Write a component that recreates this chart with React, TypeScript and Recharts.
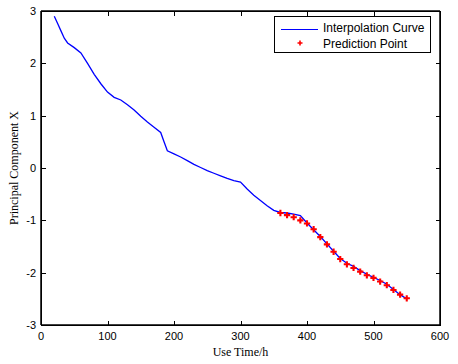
import { ComposedChart, Line, Scatter, XAxis, YAxis, ZAxis, ReferenceArea } from 'recharts';

// use time (h) and principal component X along the interpolation curve
const curveHours = [
  20, 25, 30, 35, 40, 50, 60, 70, 80, 90, 100, 110, 120, 130, 140, 150, 160, 170, 180, 185, 190, 200,
  210, 220, 230, 240, 250, 260, 270, 280, 290, 300, 310, 320, 330, 340, 350, 360, 370, 380, 390, 400,
  410, 420, 430, 440, 450, 460, 470, 480, 490, 500, 510, 520, 530, 540, 550,
];
const curveValues = [
  2.9, 2.76, 2.62, 2.48, 2.39, 2.3, 2.2, 2.0, 1.79, 1.61, 1.45, 1.35, 1.3, 1.21, 1.11, 0.99, 0.88, 0.78, 0.68, 0.5, 0.33, 0.27,
  0.21, 0.14, 0.07, 0.01, -0.05, -0.1, -0.15, -0.2, -0.24, -0.27, -0.4, -0.52, -0.62, -0.72, -0.81, -0.85, -0.86, -0.88, -0.91, -1.05,
  -1.18, -1.31, -1.45, -1.59, -1.73, -1.82, -1.88, -1.96, -2.03, -2.09, -2.15, -2.22, -2.32, -2.42, -2.5,
];

const predHours = [360, 370, 380, 390, 400, 410, 420, 430, 440, 450, 460, 470, 480, 490, 500, 510, 520, 530, 540, 550];
const predValues = [
  -0.86, -0.9, -0.94, -1.0, -1.06, -1.17, -1.32, -1.46, -1.6, -1.74, -1.84, -1.91, -1.98, -2.05, -2.1, -2.17, -2.24, -2.33, -2.42, -2.49,
];

const xTicks = [0, 100, 200, 300, 400, 500, 600];
const yTicks = [-3, -2, -1, 0, 1, 2, 3];
const xDomain = [0, 600];
const yDomain = [-3, 3];

const curveData = curveHours.map((h, i) => ({ h, v: curveValues[i] }));
const predData = predHours.map((h, i) => ({ h, v: predValues[i] }));

// plot box (matches the chart margins + axis sizes below)
const PL = 41;
const PT = 11;
const PW = 400;
const PH = 315;

const tickFont = { fontFamily: 'Liberation Sans, Arial, sans-serif', fontSize: 11, fill: '#000' };
const serif = 'Liberation Serif, Times New Roman, serif';
const GAP = 8;

const BottomTick = (props: any) => {
  const { x, y, payload } = props;
  const ay = y - GAP;
  return <text x={x} y={ay + 15} textAnchor="middle" {...tickFont}>{payload.value}</text>;
};

const LeftTick = (props: any) => {
  const { x, y, payload } = props;
  const ax = x + GAP;
  return <text x={ax - 5} y={y + 4} textAnchor="end" {...tickFont}>{payload.value}</text>;
};

// frame and inward tick marks as an overlay
const Frame = () => {
  const xs = xTicks.map((t) => PL + Math.round(((t - xDomain[0]) / (xDomain[1] - xDomain[0])) * (PW - 1)));
  const ys = yTicks.map((t) => PT + Math.round(((yDomain[1] - t) / (yDomain[1] - yDomain[0])) * (PH - 1)));
  const mark = (left: number, top: number, w: number, h: number, k: string) => (
    <div key={k} style={{ position: 'absolute', left, top, width: w, height: h, background: '#000' }} />
  );
  return (
    <div style={{ position: 'absolute', left: 0, top: 0, width: 458, height: 364, pointerEvents: 'none' }}>
      <div
        style={{
          position: 'absolute',
          left: PL,
          top: PT,
          width: PW,
          height: PH,
          border: '1px solid #000',
          boxSizing: 'border-box',
        }}
      />
      {xs.map((x, i) => mark(x, PT + PH - 5, 1, 4, 'b' + i))}
      {xs.map((x, i) => mark(x, PT + 1, 1, 4, 't' + i))}
      {ys.map((y, i) => mark(PL + 1, y, 4, 1, 'l' + i))}
      {ys.map((y, i) => mark(PL + PW - 5, y, 4, 1, 'r' + i))}
    </div>
  );
};

const LegendBox = () => (
  <div
    style={{
      position: 'absolute',
      left: 274,
      top: 16,
      width: 155,
      height: 35,
      border: '1px solid #000',
      background: '#fff',
      fontFamily: 'Liberation Sans, Arial, sans-serif',
      fontSize: 12,
    }}
  >
    <svg width={50} height={35} style={{ position: 'absolute', left: 0, top: 0 }}>
      <line x1={6} y1={12.5} x2={43} y2={12.5} stroke="#0000ff" strokeWidth={1.2} />
      <path d="M22.5,26H27.5M25,23.5V28.5" stroke="#ff0000" strokeWidth={1.6} />
    </svg>
    <div style={{ position: 'absolute', left: 48, top: 4, lineHeight: '14px' }}>Interpolation Curve</div>
    <div style={{ position: 'absolute', left: 48, top: 20, lineHeight: '14px' }}>Prediction Point</div>
  </div>
);

export default function App() {
  return (
    <div style={{ position: 'absolute', left: 0, top: 0, width: 458, height: 364, background: '#fff' }}>
      <ComposedChart width={458} height={364} margin={{ top: 10, right: 17, left: 11, bottom: 9 }}>
        <XAxis
          dataKey="h"
          type="number"
          domain={xDomain}
          tickCount={xTicks.length}
          height={30}
          tickLine={{ stroke: 'none' }}
          tick={<BottomTick />}
          stroke="#000"
        />
        <XAxis xAxisId="top" orientation="top" dataKey="h" type="number" domain={xDomain} height={1} tick={false} stroke="#000" />
        <YAxis
          dataKey="v"
          type="number"
          domain={yDomain}
          tickCount={yTicks.length}
          width={30}
          tickLine={{ stroke: 'none' }}
          tick={<LeftTick />}
          stroke="#000"
        />
        <YAxis yAxisId="right" orientation="right" dataKey="v" type="number" domain={yDomain} width={1} tick={false} stroke="#000" />
        <ZAxis range={[22, 22]} />
        <ReferenceArea x1={0} x2={600} y1={-3} y2={3} fill="#fff" fillOpacity={0} stroke="#000" />
        <Line
          data={curveData}
          dataKey="v"
          type="linear"
          stroke="#0000ff"
          strokeWidth={1.3}
          dot={false}
          isAnimationActive={false}
          name="Interpolation Curve"
        />
        <Scatter
          data={predData}
          dataKey="v"
          fill="#ff0000"
          shape="cross"
          isAnimationActive={false}
          name="Prediction Point"
        />
      </ComposedChart>
      <Frame />
      <div
        style={{
          position: 'absolute',
          left: 0,
          right: 0,
          top: 345,
          textAlign: 'center',
          paddingLeft: 23,
          fontFamily: serif,
          fontSize: 12,
        }}
      >
        Use Time/h
      </div>
      <div
        style={{
          position: 'absolute',
          left: 14,
          top: 168,
          transform: 'translate(-50%, -50%) rotate(-90deg)',
          whiteSpace: 'nowrap',
          fontFamily: serif,
          fontSize: 12,
        }}
      >
        Principal Component X
      </div>
      <LegendBox />
    </div>
  );
}
